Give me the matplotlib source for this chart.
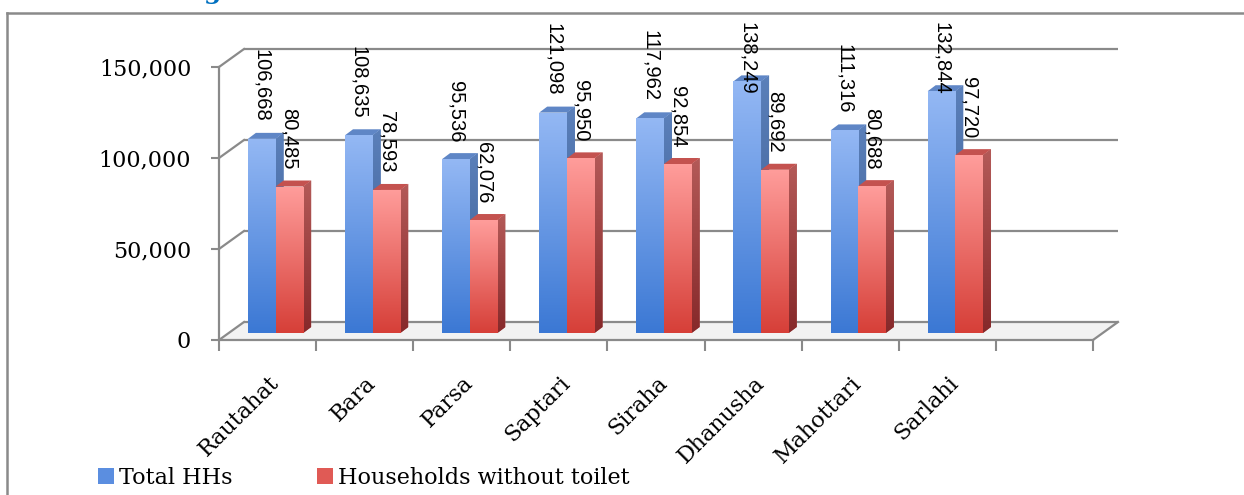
import numpy as np
import matplotlib
matplotlib.use("Agg")
import matplotlib.pyplot as plt
from matplotlib.patches import Polygon, Patch
from matplotlib.colors import LinearSegmentedColormap
from matplotlib.lines import Line2D

# ---------------- data ----------------
categories = ["Rautahat", "Bara", "Parsa", "Saptari", "Siraha",
              "Dhanusha", "Mahottari", "Sarlahi", ""]
total_hhs = [106668, 108635, 95536, 121098, 117962, 138249, 111316, 132844]
without_toilet = [80485, 78593, 62076, 95950, 92854, 89692, 80688, 97720]
y_ticks = [0, 50000, 100000, 150000]
series_names = ["Total HHs", "Households without toilet"]

# ---------------- styles ----------------
W, H, DPI = 1244, 495, 100
GRID = "#8a8a8a"
SERIF = ["DejaVu Serif"]
SANS = ["Liberation Sans", "DejaVu Sans"]

front_cols = [("#3b78d4", "#94b8f4"), ("#d63f38", "#ff9d9b")]   # (bottom, top)
side_cols = [("#37598f", "#5b80ba"), ("#86292a", "#b45a58")]
top_cols = ["#5f86c6", "#c4524f"]
legend_cols = ["#5b8ee0", "#e05a55"]

fig = plt.figure(figsize=(W / DPI, H / DPI), dpi=DPI)

# front plane of the 3-D box in pixels
L, R, B, T = 219, 1093, 340, 67
ax = fig.add_axes([L / W, 1 - B / H, (R - L) / W, (B - T) / H])
n_slots = len(categories)
ymax = y_ticks[-1]
ax.set_xlim(-0.5, n_slots - 0.5)
ax.set_ylim(0, ymax)
ax.patch.set_alpha(0)

px_x = (R - L) / n_slots
px_y = (B - T) / ymax
def dx(p):
    return p / px_x
def dy(p):
    return p / px_y

WALL = (25, 18)      # depth of the back wall (px)
BOFF = (8, 7)        # front face of the bars (px)
BDEP = (8, 6)        # bar depth (px)
bw = 0.285

# floor
x_l, x_r = -0.5, n_slots - 0.5
floor = Polygon([(x_l, 0), (x_r, 0), (x_r + dx(WALL[0]), dy(WALL[1])),
                 (x_l + dx(WALL[0]), dy(WALL[1]))], closed=True,
                facecolor="#f2f2f2", edgecolor="none", zorder=1, clip_on=False)
ax.add_patch(floor)

# back wall gridlines and side wall diagonals
for v in y_ticks:
    ax.plot([x_l + dx(WALL[0]), x_r + dx(WALL[0])], [v + dy(WALL[1])] * 2,
            color=GRID, lw=1.6, zorder=2, clip_on=False, solid_capstyle="butt")
    ax.plot([x_l, x_l + dx(WALL[0])], [v, v + dy(WALL[1])],
            color=GRID, lw=1.6, zorder=2, clip_on=False)
ax.plot([x_r, x_r + dx(WALL[0])], [0, dy(WALL[1])], color=GRID, lw=1.6,
        zorder=2, clip_on=False)

# bars
grad = np.linspace(0, 1, 256).reshape(-1, 1)
label_texts = []
z = 3
for i in range(len(total_hhs)):
    for s, vals in enumerate([total_hhs, without_toilet]):
        v = vals[i]
        x0 = i - bw + s * bw + dx(BOFF[0])
        y0 = dy(BOFF[1])
        ddx, ddy = dx(BDEP[0]), dy(BDEP[1])
        # side face
        side = Polygon([(x0 + bw, y0), (x0 + bw + ddx, y0 + ddy),
                        (x0 + bw + ddx, y0 + v + ddy), (x0 + bw, y0 + v)],
                       closed=True, facecolor=side_cols[s][1], edgecolor="none", zorder=z)
        ax.add_patch(side)
        cm_s = LinearSegmentedColormap.from_list("s", side_cols[s])
        im = ax.imshow(grad, extent=[x0 + bw, x0 + bw + ddx, y0, y0 + v + ddy],
                       origin="lower", aspect="auto", cmap=cm_s, zorder=z,
                       interpolation="bilinear")
        im.set_clip_path(side)
        # top face
        top = Polygon([(x0, y0 + v), (x0 + bw, y0 + v), (x0 + bw + ddx, y0 + v + ddy),
                       (x0 + ddx, y0 + v + ddy)], closed=True,
                      facecolor=top_cols[s], edgecolor="none", zorder=z + 0.1)
        ax.add_patch(top)
        # front face
        rect = ax.bar(x0, v, width=bw, bottom=y0, align="edge",
                      color=front_cols[s][1], zorder=z + 0.2)[0]
        cm_f = LinearSegmentedColormap.from_list("f", front_cols[s])
        im = ax.imshow(grad, extent=[x0, x0 + bw, y0, y0 + v], origin="lower",
                       aspect="auto", cmap=cm_f, zorder=z + 0.3,
                       interpolation="bilinear")
        im.set_clip_path(rect)
        z += 1
        t = ax.annotate(f"{v:,}", xy=(x0 + bw / 2, y0 + v), xytext=(0, 17),
                        textcoords="offset pixels", rotation=270,
                        ha="center", va="bottom", fontsize=14.5,
                        family=SANS, color="black", zorder=100,
                        annotation_clip=False)
        label_texts.append(t)

ax.set_xlim(-0.5, n_slots - 0.5)
ax.set_ylim(0, ymax)
ax.set_aspect("auto")

# spines and ticks
for sp in ["top", "right"]:
    ax.spines[sp].set_visible(False)
for sp in ["left", "bottom"]:
    ax.spines[sp].set_color(GRID)
    ax.spines[sp].set_linewidth(1.6)
    ax.spines[sp].set_zorder(2.5)

ax.set_yticks(y_ticks)
ax.set_yticklabels([f"{v:,}" for v in y_ticks], family=SERIF, fontsize=16)
ax.tick_params(axis="y", length=6, width=1.5, color=GRID, pad=14)

ax.set_xticks(np.arange(-0.5, n_slots, 1.0))
ax.set_xticklabels([])
ax.tick_params(axis="x", which="major", length=8, width=1.5, color=GRID)
ax.set_xticks(np.arange(n_slots), minor=True)
ax.set_xticklabels(categories, minor=True, rotation=45, ha="right",
                   rotation_mode="anchor", family=SERIF, fontsize=16)
ax.tick_params(axis="x", which="minor", length=0, pad=23)

# legend
handles = [Patch(facecolor=c, edgecolor="none") for c in legend_cols]
fig.legend(handles, series_names, loc="center left",
           bbox_to_anchor=(98 / W, (H - 478) / H), ncol=2, frameon=False,
           borderaxespad=0, borderpad=0, handlelength=0.72, handleheight=0.72,
           handletextpad=0.22, columnspacing=3.8,
           prop={"family": SERIF, "size": 16})

# outer border and cut-off heading
fig.add_artist(Line2D([7 / W, 1], [1 - 13 / H] * 2, color=GRID, lw=1.8))
fig.add_artist(Line2D([7 / W] * 2, [0, 1 - 13 / H], color=GRID, lw=1.8))
fig.text(213 / W, 1 + 1.5 / H, "g", color="#0070c0", fontsize=18,
         fontweight="bold", family=SERIF, ha="center", va="baseline")

# keep data labels inside the chart area (as Excel does)
fig.canvas.draw()
limit = H - 22
for t in label_texts:
    bb = t.get_window_extent()
    if bb.y1 > limit:
        t.xyann = (0, 17 - (bb.y1 - limit))

fig.savefig("out.png", dpi=DPI)
